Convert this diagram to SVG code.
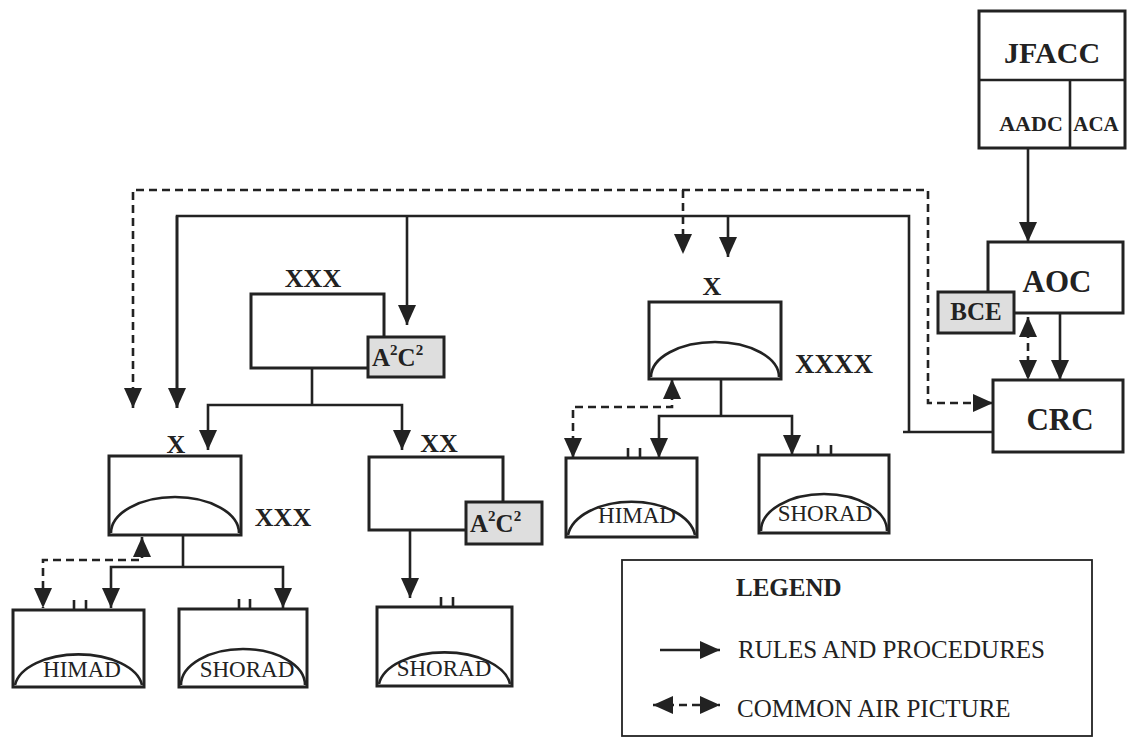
<svg xmlns="http://www.w3.org/2000/svg" width="1128" height="738" viewBox="0 0 1128 738">
<style>
.box{fill:#fff;stroke:#222;stroke-width:3}
.gray{fill:#dedede;stroke:#222;stroke-width:3}
.ln{fill:none;stroke:#222;stroke-width:2.6}
.ds{fill:none;stroke:#222;stroke-width:2.6;stroke-dasharray:8 5}
.arc{fill:none;stroke:#222;stroke-width:2.6}
.tk{stroke:#222;stroke-width:2.6}
.b{font-family:"Liberation Serif","Times New Roman",serif;font-weight:bold;fill:#222}
.r{font-family:"Liberation Serif","Times New Roman",serif;fill:#222}
</style>
<defs>
<marker id="a" viewBox="0 0 20 18" refX="20" refY="9" markerWidth="20" markerHeight="18" markerUnits="userSpaceOnUse" orient="auto-start-reverse">
<path d="M0,0 L20,9 L0,18 z" fill="#222"/>
</marker>
</defs>
<rect width="1128" height="738" fill="#fff"/>

<g id="connectors">
<path class="ds" d="M133,408 L133,190 L928,190 L928,403 L993,403" marker-start="url(#a)" marker-end="url(#a)"/>
<path class="ds" d="M683,190 L683,254" marker-end="url(#a)"/>
<path class="ln" d="M177,408 L177,216 L909,216 L909,432"/>
<path class="ln" d="M177,216 L177,408" marker-end="url(#a)"/>
<path class="ln" d="M407,216 L407,325" marker-end="url(#a)"/>
<path class="ln" d="M728,216 L728,257" marker-end="url(#a)"/>
<path class="ln" d="M903,432 L993,432"/>
<path class="ln" d="M1028,148 L1028,242" marker-end="url(#a)"/>
<path class="ln" d="M1060,313 L1060,380" marker-end="url(#a)"/>
<path class="ds" d="M1028,317 L1028,380" marker-start="url(#a)" marker-end="url(#a)"/>
<path class="ln" d="M312,368 L312,405"/>
<path class="ln" d="M312,405 L208,405 L208,450" marker-end="url(#a)"/>
<path class="ln" d="M312,405 L402,405 L402,450" marker-end="url(#a)"/>
<path class="ln" d="M183,535 L183,567"/>
<path class="ln" d="M183,567 L111,567 L111,608" marker-end="url(#a)"/>
<path class="ln" d="M183,567 L283,567 L283,608" marker-end="url(#a)"/>
<path class="ds" d="M142,537 L142,560 L43,560 L43,608" marker-start="url(#a)" marker-end="url(#a)"/>
<path class="ln" d="M410,530 L410,598" marker-end="url(#a)"/>
<path class="ln" d="M721,379 L721,416"/>
<path class="ln" d="M721,416 L659,416 L659,458" marker-end="url(#a)"/>
<path class="ln" d="M721,416 L792,416 L792,455" marker-end="url(#a)"/>
<path class="ds" d="M672,379 L672,407 L573,407 L573,458" marker-start="url(#a)" marker-end="url(#a)"/>
</g>

<g id="jfacc">
<rect class="box" x="979" y="11" width="146" height="137"/>
<line class="tk" x1="979" y1="80" x2="1125" y2="80"/>
<line class="tk" x1="1070" y1="80" x2="1070" y2="148"/>
<text class="b" x="1052" y="63" font-size="30" text-anchor="middle">JFACC</text>
<text class="b" x="1031" y="131" font-size="22" text-anchor="middle">AADC</text>
<text class="b" x="1096" y="131" font-size="21" text-anchor="middle">ACA</text>
</g>

<g id="aoc">
<rect class="box" x="988" y="242" width="135" height="71"/>
<text class="b" x="1057" y="292" font-size="31" text-anchor="middle">AOC</text>
</g>
<g id="bce">
<rect class="gray" x="938" y="292" width="76" height="41"/>
<text class="b" x="976" y="320" font-size="25" text-anchor="middle">BCE</text>
</g>
<g id="crc">
<rect class="box" x="993" y="380" width="130" height="72"/>
<text class="b" x="1060" y="430" font-size="31" text-anchor="middle">CRC</text>
</g>

<g id="corps">
<text class="b" x="313" y="287" font-size="26" text-anchor="middle">XXX</text>
<rect class="box" x="251" y="294" width="133" height="74"/>
<rect class="gray" x="368" y="337" width="76" height="40"/>
<text class="b" x="372" y="366" font-size="25">A<tspan font-size="15" dy="-11">2</tspan><tspan dy="11">C</tspan><tspan font-size="15" dy="-11">2</tspan></text>
</g>

<g id="brigade-left">
<text class="b" x="176" y="453" font-size="26" text-anchor="middle">X</text>
<rect class="box" x="109" y="456" width="132" height="79"/>
<path class="arc" d="M111,533 A64,36 0 0 1 239,533"/>
<text class="b" x="283" y="526" font-size="26" text-anchor="middle">XXX</text>
</g>

<g id="himad-left">
<rect class="box" x="13" y="610" width="131" height="77"/>
<path class="arc" d="M15,685 A64,35 0 0 1 142,685"/>
<line class="tk" x1="74" y1="600" x2="74" y2="610"/>
<line class="tk" x1="86" y1="600" x2="86" y2="610"/>
<text class="r" x="82" y="677" font-size="23" text-anchor="middle">HIMAD</text>
</g>

<g id="shorad-left">
<rect class="box" x="179" y="609" width="128" height="78"/>
<path class="arc" d="M181,685 A62,36 0 0 1 305,685"/>
<line class="tk" x1="239" y1="599" x2="239" y2="609"/>
<line class="tk" x1="250" y1="599" x2="250" y2="609"/>
<text class="r" x="247" y="677" font-size="23" text-anchor="middle">SHORAD</text>
</g>

<g id="division">
<text class="b" x="439" y="452" font-size="26" text-anchor="middle">XX</text>
<rect class="box" x="369" y="457" width="134" height="73"/>
<rect class="gray" x="466" y="502" width="76" height="42"/>
<text class="b" x="470" y="532" font-size="25">A<tspan font-size="15" dy="-11">2</tspan><tspan dy="11">C</tspan><tspan font-size="15" dy="-11">2</tspan></text>
</g>

<g id="shorad-div">
<rect class="box" x="377" y="607" width="135" height="79"/>
<path class="arc" d="M379,684 A66,36 0 0 1 510,684"/>
<line class="tk" x1="441" y1="597" x2="441" y2="607"/>
<line class="tk" x1="453" y1="597" x2="453" y2="607"/>
<text class="r" x="444" y="676" font-size="23" text-anchor="middle">SHORAD</text>
</g>

<g id="brigade-center">
<text class="b" x="712" y="295" font-size="26" text-anchor="middle">X</text>
<rect class="box" x="649" y="302" width="132" height="77"/>
<path class="arc" d="M651,377 A64,35 0 0 1 779,377"/>
<text class="b" x="834" y="373" font-size="27" text-anchor="middle">XXXX</text>
</g>

<g id="himad-center">
<rect class="box" x="566" y="458" width="131" height="79"/>
<path class="arc" d="M568,535 A64,38 0 0 1 695,535"/>
<line class="tk" x1="628" y1="448" x2="628" y2="458"/>
<line class="tk" x1="640" y1="448" x2="640" y2="458"/>
<text class="r" x="637" y="523" font-size="23" text-anchor="middle">HIMAD</text>
</g>

<g id="shorad-center">
<rect class="box" x="759" y="455" width="130" height="78"/>
<path class="arc" d="M761,531 A63,37 0 0 1 887,531"/>
<line class="tk" x1="818" y1="445" x2="818" y2="455"/>
<line class="tk" x1="831" y1="445" x2="831" y2="455"/>
<text class="r" x="825" y="521" font-size="23" text-anchor="middle">SHORAD</text>
</g>

<g id="legend">
<rect x="622" y="560" width="470" height="176" fill="#fff" stroke="#222" stroke-width="1.8"/>
<text class="b" x="736" y="596" font-size="25">LEGEND</text>
<path class="ln" d="M660,650 L720,650" marker-end="url(#a)"/>
<text class="r" x="738" y="658" font-size="25">RULES AND PROCEDURES</text>
<path class="ds" d="M653,705 L720,705" marker-start="url(#a)" marker-end="url(#a)"/>
<text class="r" x="737" y="717" font-size="25">COMMON AIR PICTURE</text>
</g>
</svg>
